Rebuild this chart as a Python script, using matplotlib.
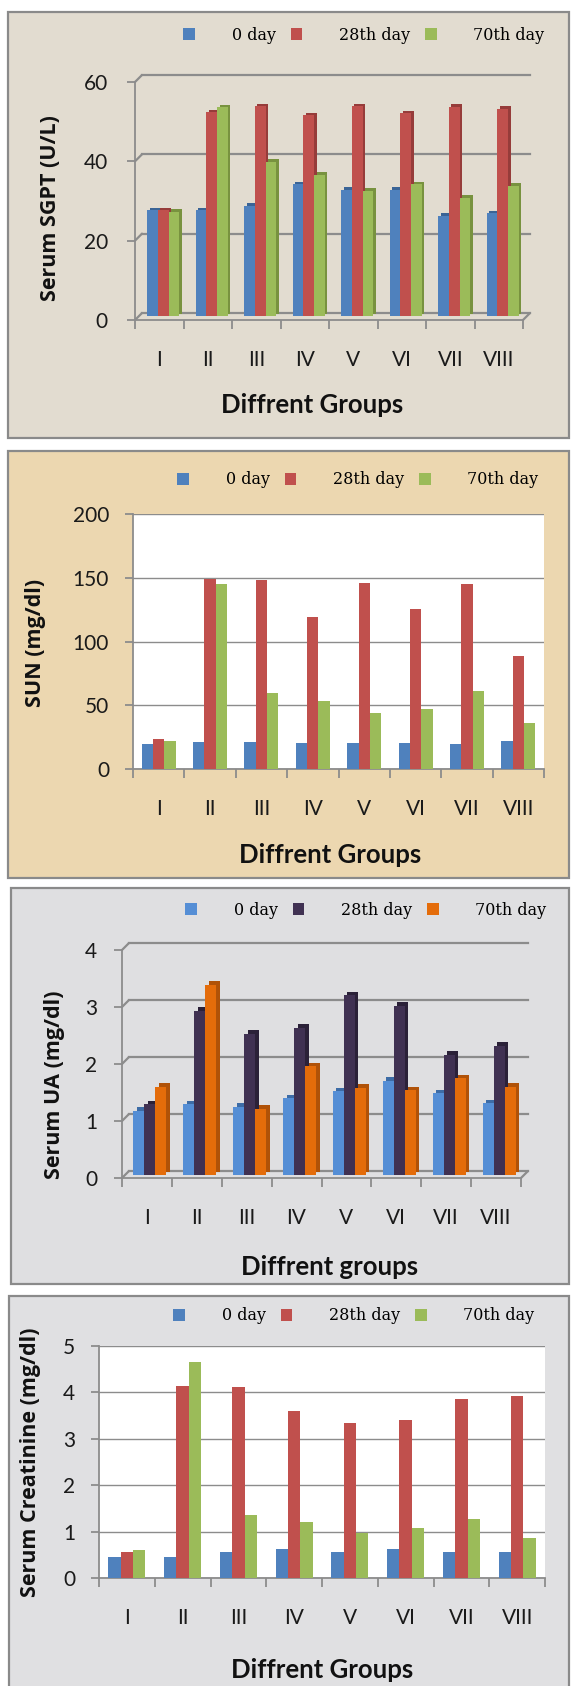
import numpy as np
import matplotlib
matplotlib.use("Agg")
import matplotlib.pyplot as plt
from matplotlib.patches import Rectangle, ConnectionPatch
from matplotlib.transforms import offset_copy

W, H, DPI = 571, 1686, 100
PX = 72 / DPI  # points per pixel

groups = ["I", "II", "III", "IV", "V", "VI", "VII", "VIII"]
days = ["0 day", "28th day", "70th day"]

sgpt_day0  = [26.7, 26.6, 27.8, 33.2, 31.8, 31.8, 25.3, 25.9]
sgpt_day28 = [26.6, 51.4, 52.9, 50.6, 52.9, 51.1, 52.8, 52.2]
sgpt_day70 = [26.3, 52.6, 38.9, 35.6, 31.6, 33.2, 29.8, 32.8]

sun_day0  = [19.6, 21.2, 21.2, 20.4, 20.4, 20.4, 19.6, 22.2]
sun_day28 = [23.5, 149.3, 148.2, 119.0, 146.1, 125.8, 145.1, 88.9]
sun_day70 = [22.2, 145.1, 59.3, 53.6, 43.9, 46.8, 61.4, 36.1]

ua_day0  = [1.13, 1.24, 1.20, 1.35, 1.47, 1.65, 1.43, 1.26]
ua_day28 = [1.24, 2.88, 2.48, 2.58, 3.15, 2.97, 2.11, 2.27]
ua_day70 = [1.55, 3.34, 1.16, 1.91, 1.53, 1.49, 1.70, 1.55]

creat_day0  = [0.46, 0.46, 0.57, 0.62, 0.55, 0.62, 0.55, 0.55]
creat_day28 = [0.57, 4.14, 4.11, 3.59, 3.35, 3.40, 3.85, 3.93]
creat_day70 = [0.60, 4.65, 1.36, 1.21, 0.96, 1.07, 1.28, 0.86]

office = ["#4f81bd", "#c0504d", "#9bbb59"]
office_dark = ["#3a6496", "#963c3a", "#78923f"]
ua_cols = ["#558ed5", "#403152", "#e46c0a"]
ua_dark = ["#3d6ca6", "#2b2138", "#b05208"]

GRID = "#8c8c8c"
SANS = "Lato"

fig = plt.figure(figsize=(W / DPI, H / DPI), dpi=DPI)


def px_box(x0, y0, x1, y1):
    return [x0 / W, 1 - y1 / H, (x1 - x0) / W, (y1 - y0) / H]


def panel_bg(x0, y0, x1, y1, color):
    fig.add_artist(Rectangle((x0 / W, 1 - y1 / H), (x1 - x0) / W, (y1 - y0) / H,
                             transform=fig.transFigure, facecolor=color,
                             edgecolor="#8a8a8a", lw=1.6, zorder=0))


def shifted(ax, dx, dy):
    return offset_copy(ax.transData, fig=fig, x=dx * PX, y=dy * PX, units="points")


def draw_bars(ax, series, colors, dark=None, lift=0, depth=0):
    x = np.arange(len(groups))
    w = 0.22
    front = shifted(ax, lift, lift)
    handles = []
    for k, vals in enumerate(series):
        pos = x + (k - 1) * w
        if dark is not None:
            ax.bar(pos, vals, w, color=dark[k], linewidth=0,
                   transform=shifted(ax, lift + depth, lift + depth), zorder=3)
        b = ax.bar(pos, vals, w, color=colors[k], linewidth=0, transform=front,
                   zorder=4, label=days[k])
        handles.append(b)
    return handles


def style_axes(ax, ymax, ystep, ylab_pad):
    ax.set_xlim(-0.5, len(groups) - 0.5)
    ax.set_ylim(0, ymax)
    ax.set_yticks(np.arange(0, ymax + ystep / 2, ystep))
    ax.set_xticks(np.arange(len(groups) + 1) - 0.5)
    ax.set_xticklabels([])
    ax.set_xticks(np.arange(len(groups)), minor=True)
    ax.set_xticklabels(groups, minor=True)
    for s in ["top", "right"]:
        ax.spines[s].set_visible(False)
    for s in ["left", "bottom"]:
        ax.spines[s].set_color(GRID)
        ax.spines[s].set_linewidth(1.3)
    ax.tick_params(axis="x", which="major", length=9 * PX, width=1.3, color=GRID)
    ax.tick_params(axis="x", which="minor", length=0, pad=30 * PX,
                   labelsize=15, labelcolor="#1a1a1a")
    ax.tick_params(axis="y", length=8 * PX, width=1.3, color=GRID, pad=ylab_pad * PX,
                   labelsize=15, labelcolor="#1a1a1a")
    for lab in ax.get_xticklabels(minor=True) + ax.get_yticklabels():
        lab.set_fontfamily(SANS)


def back_wall(ax, ymax, ystep, dx, dy):
    back = shifted(ax, dx, dy)
    n = len(groups)
    for v in np.arange(0, ymax + ystep / 2, ystep):
        ax.plot([-0.5, n - 0.5], [v, v], color=GRID, lw=1.6, transform=back,
                zorder=1, clip_on=False)
        ax.add_artist(ConnectionPatch(xyA=(-0.5, v), coordsA=ax.transData,
                                      xyB=(-0.5, v), coordsB=back,
                                      color=GRID, lw=1.6, zorder=1))
    ax.add_artist(ConnectionPatch(xyA=(n - 0.5, 0), coordsA=ax.transData,
                                  xyB=(n - 0.5, 0), coordsB=back,
                                  color=GRID, lw=1.6, zorder=1))


def labels(xlab, ylab, xpos, ypos, legend_pos, handles):
    fig.text(xpos[0] / W, 1 - xpos[1] / H, xlab, ha="center", va="center",
             fontsize=18.5, fontweight="bold", family=SANS, color="#111111")
    fig.text(ypos[0] / W, 1 - ypos[1] / H, ylab, ha="center", va="center",
             rotation=90, fontsize=15.5, fontweight="bold", family="Open Sans",
             color="#111111")
    fig.legend(handles, days, loc="center",
               bbox_to_anchor=(legend_pos[0] / W, 1 - legend_pos[1] / H),
               ncol=3, frameon=False, prop=dict(family="DejaVu Serif", size=11.5),
               handlelength=0.75, handleheight=0.75, handletextpad=2.3,
               columnspacing=0.9, borderpad=0, borderaxespad=0)


# Panel 1: Serum SGPT (3D cylinders)
panel_bg(8, 12, 569, 438, "#e2dcd0")
ax1 = fig.add_axes(px_box(135, 82, 523, 320))
ax1.patch.set_visible(False)
style_axes(ax1, 60, 20, 19)
back_wall(ax1, 60, 20, 7, 7)
h1 = draw_bars(ax1, [sgpt_day0, sgpt_day28, sgpt_day70], office, office_dark, lift=4, depth=2.5)
labels("Diffrent Groups", "Serum SGPT (U/L)", (312, 405), (51, 208), (364, 35), h1)

# Panel 2: SUN (flat columns)
panel_bg(8, 451, 569, 878, "#ecd7b0")
ax2 = fig.add_axes(px_box(133, 514, 544, 769))
ax2.set_facecolor("white")
style_axes(ax2, 200, 50, 16)
ax2.grid(axis="y", color=GRID, lw=1.0, zorder=1)
ax2.set_axisbelow(True)
h2 = draw_bars(ax2, [sun_day0, sun_day28, sun_day70], office)
labels("Diffrent Groups", "SUN (mg/dl)", (330, 855), (36, 643), (358, 480), h2)

# Panel 3: Serum UA (3D boxes)
panel_bg(11, 888, 569, 1284, "#dfdfe1")
ax3 = fig.add_axes(px_box(122, 950, 521, 1178))
ax3.patch.set_visible(False)
style_axes(ax3, 4, 1, 17)
back_wall(ax3, 4, 1, 7, 7)
h3 = draw_bars(ax3, [ua_day0, ua_day28, ua_day70], ua_cols, ua_dark, lift=3, depth=3.5)
labels("Diffrent groups", "Serum UA (mg/dl)", (330, 1267), (55, 1085), (366, 910), h3)

# Panel 4: Serum Creatinine (flat columns)
panel_bg(9, 1296, 569, 1692, "#e0e0e2")
ax4 = fig.add_axes(px_box(99, 1346, 545, 1578))
ax4.set_facecolor("white")
style_axes(ax4, 5, 1, 16)
ax4.grid(axis="y", color=GRID, lw=1.0, zorder=1)
ax4.set_axisbelow(True)
h4 = draw_bars(ax4, [creat_day0, creat_day28, creat_day70], office)
labels("Diffrent Groups", "Serum Creatinine (mg/dl)", (322, 1670), (31, 1462), (354, 1316), h4)

fig.savefig("out.png", dpi=DPI)
